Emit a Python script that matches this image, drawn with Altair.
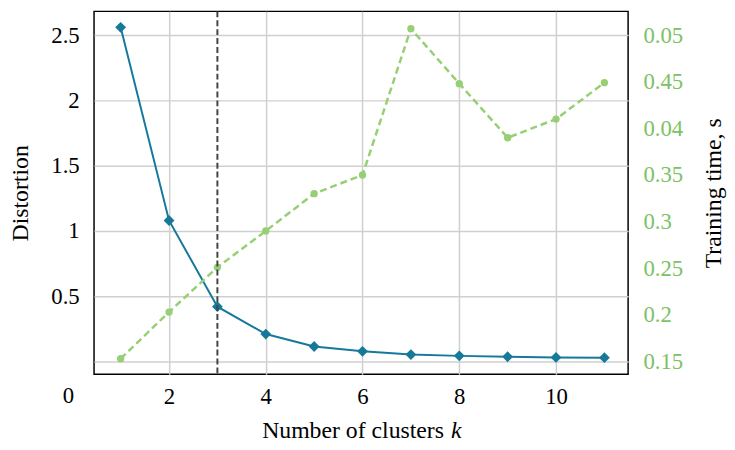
import altair as alt
import pandas as pd

k_values = [1, 2, 3, 4, 5, 6, 7, 8, 9, 10, 11]
distortion = [2.56, 1.08, 0.42, 0.21, 0.115, 0.078, 0.053, 0.043, 0.036, 0.031, 0.029]
train_time = [0.0153, 0.0203, 0.0251, 0.029, 0.033, 0.035, 0.0507, 0.0448, 0.039, 0.041, 0.0449]

x_ticks = [2, 4, 6, 8, 10]
left_ticks = [0, 0.5, 1, 1.5, 2, 2.5]
right_ticks = [0.015, 0.02, 0.025, 0.03, 0.035, 0.04, 0.045, 0.05]
right_labels = ["0.15", "0.2", "0.25", "0.3", "0.35", "0.04", "0.45", "0.05"]
elbow_k = [3]

df = pd.DataFrame({"k": k_values, "distortion": distortion, "time": train_time})

BLUE = "#16799a"
GREEN = "#97cf74"
GREEN_TXT = "#7cc264"
FONT = "Liberation Serif"
LBL = 23
TTL = 24

W, H = 540, 367

xscale = alt.Scale(domain=[0.45, 11.49], nice=False, zero=False)
xaxis = alt.Axis(values=x_ticks, grid=True, ticks=False, domain=False,
                 labelPadding=11, title=None, labelFontSize=LBL, labelFont=FONT,
                 labelColor="#000")

base = alt.Chart(df)

left_axis = alt.Axis(values=left_ticks, grid=True, ticks=False, domain=False,
                     labelExpr="datum.value == 0 ? '' : format(datum.value, '~g')",
                     labelPadding=15, title="Distortion", titleFontSize=TTL,
                     labelFont=FONT, titleFont=FONT,
                     titleFontWeight="normal", titlePadding=19,
                     labelFontSize=LBL, labelColor="#000", titleColor="#000")

blue_line = base.mark_line(color=BLUE, strokeWidth=2).encode(
    x=alt.X("k:Q", scale=xscale, axis=xaxis),
    y=alt.Y("distortion:Q", scale=alt.Scale(domain=[-0.0985, 2.682], nice=False, zero=False),
            axis=left_axis),
)
blue_pts = base.mark_point(shape="diamond", filled=True, color=BLUE, size=120, opacity=1).encode(
    x=alt.X("k:Q", scale=xscale),
    y=alt.Y("distortion:Q"),
)

label_arr = "[" + ",".join("'" + s + "'" for s in right_labels) + "]"
right_axis = alt.Axis(values=right_ticks, orient="right", grid=False, ticks=False, domain=False,
                      labelExpr=label_arr + "[round((datum.value - 0.015) / 0.005)]",
                      labelPadding=15, title="Training time, s", titleFontSize=TTL,
                      labelFont=FONT, titleFont=FONT,
                      titleFontWeight="normal", titleAngle=270, titlePadding=43,
                      labelFontSize=LBL, labelColor=GREEN_TXT, titleColor="#000")

green_line = base.mark_line(color=GREEN, strokeWidth=2.5, strokeDash=[7, 4]).encode(
    x=alt.X("k:Q", scale=xscale),
    y=alt.Y("time:Q", scale=alt.Scale(domain=[0.01362, 0.05255], nice=False, zero=False),
            axis=right_axis),
)
green_pts = base.mark_point(shape="circle", filled=True, color=GREEN, size=55, opacity=1).encode(
    x=alt.X("k:Q", scale=xscale),
    y=alt.Y("time:Q"),
)

left_group = alt.layer(blue_line, blue_pts)
right_group = alt.layer(green_line, green_pts)

rule = alt.Chart(pd.DataFrame({"k": elbow_k})).mark_rule(
    color="#444444", strokeWidth=2, strokeDash=[6, 3]
).encode(x=alt.X("k:Q", scale=xscale))

zero_lbl = alt.Chart(pd.DataFrame({"t": ["0"]})).mark_text(
    font=FONT, fontSize=LBL, color="#000", baseline="alphabetic", align="center"
).encode(text="t:N", x=alt.value(-26), y=alt.value(H + 29))

xt1 = alt.Chart(pd.DataFrame({"t": ["Number of clusters"]})).mark_text(
    font=FONT, fontSize=TTL, color="#000", baseline="alphabetic", align="left"
).encode(text="t:N", x=alt.value(170), y=alt.value(H + 64))
xt2 = alt.Chart(pd.DataFrame({"t": ["k"]})).mark_text(
    font=FONT, fontSize=TTL, color="#000", baseline="alphabetic", align="left", fontStyle="italic"
).encode(text="t:N", x=alt.value(361), y=alt.value(H + 64))

chart = alt.layer(
    left_group, right_group, rule, zero_lbl, xt1, xt2
).resolve_scale(y="independent").properties(
    width=W, height=H,
    autosize=alt.AutoSizeParams(type="none"),
    padding={"left": 87, "top": 1, "right": 100, "bottom": 66},
    background="white",
).configure_view(
    stroke="#000", strokeWidth=1.5
).configure_axis(
    labelFont=FONT, titleFont=FONT, gridColor="#cfcfcf", gridWidth=1.5
)

chart.save("out.html", embed_options={"renderer": "svg", "actions": False})
